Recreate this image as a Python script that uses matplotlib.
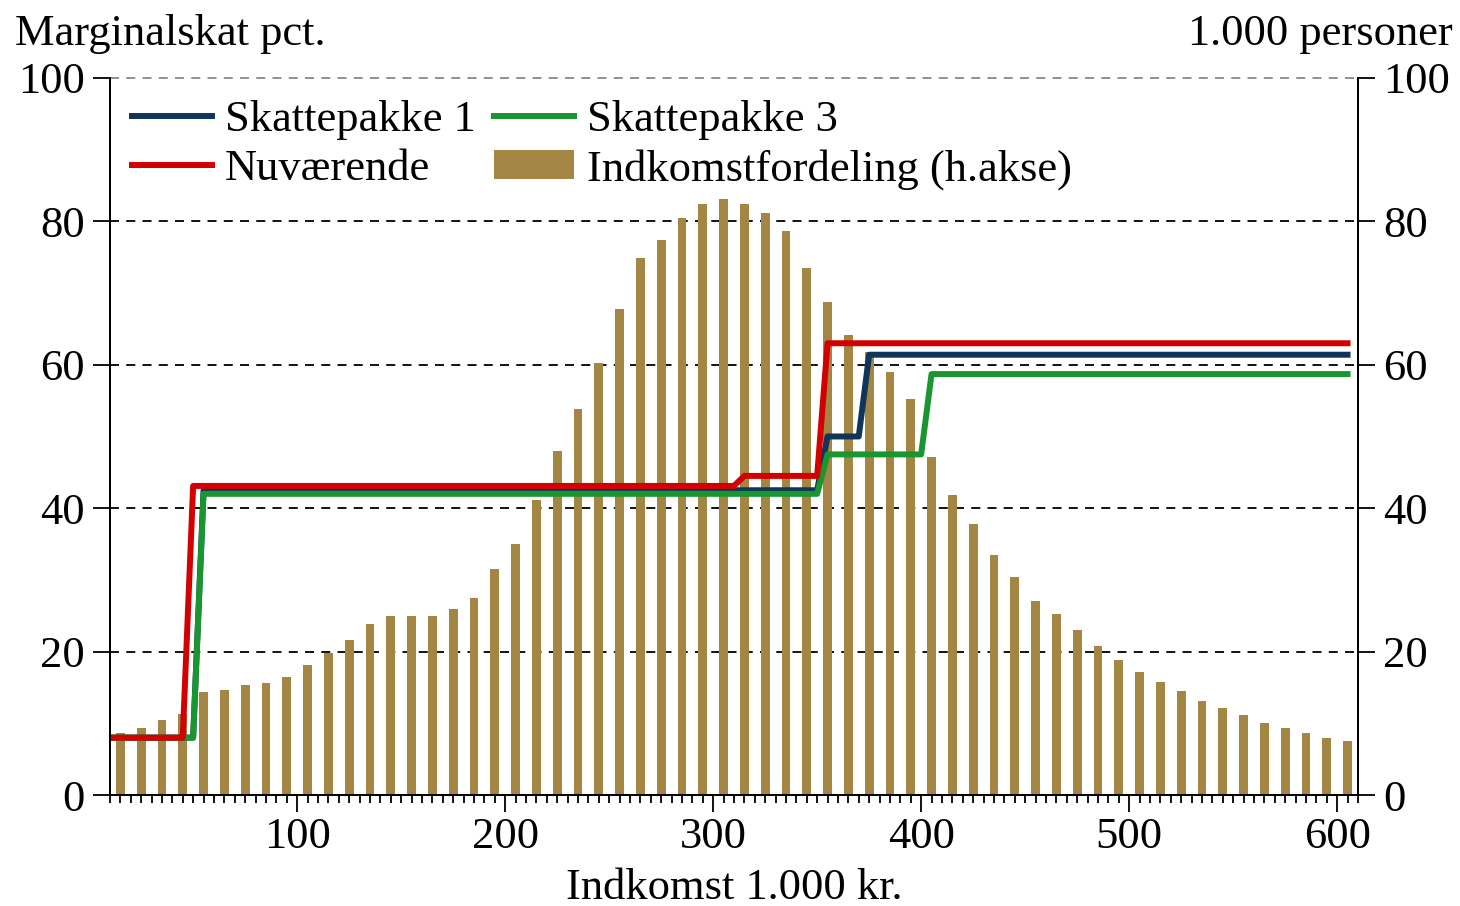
import numpy as np
import matplotlib
matplotlib.use("Agg")
from matplotlib import pyplot as plt
from matplotlib.ticker import MultipleLocator

plt.rcParams['font.family'] = ['Liberation Serif', 'DejaVu Serif']

# income distribution (1.000 persons), bars at 15, 25, ..., 605
bar_x = np.arange(15, 606, 10)
bar_h = [8.7, 9.3, 10.5, 11.3, 14.3, 14.7, 15.4, 15.6, 16.5, 18.1,
         19.8, 21.6, 23.8, 25.0, 25.0, 25.0, 25.9, 27.5, 31.5, 35.0,
         41.1, 48.0, 53.8, 60.3, 67.8, 74.9, 77.4, 80.4, 82.4, 83.1,
         82.4, 81.1, 78.6, 73.5, 68.8, 64.1, 61.8, 59.0, 55.2, 47.2,
         41.9, 37.8, 33.5, 30.4, 27.1, 25.2, 23.0, 20.8, 18.8, 17.2,
         15.8, 14.5, 13.1, 12.2, 11.1, 10.0, 9.3, 8.7, 8.0, 7.6]

# marginal tax (pct.) break points
nuv_x = [10, 45, 50, 310, 315, 350, 355, 605]
nuv_y = [8, 8, 43.1, 43.1, 44.5, 44.5, 63.0, 63.0]
sp1_x = [10, 50, 55, 350, 355, 370, 375, 605]
sp1_y = [8, 8, 42.5, 42.5, 50.0, 50.0, 61.4, 61.4]
sp3_x = [10, 50, 55, 350, 355, 400, 405, 605]
sp3_y = [8, 8, 42.0, 42.0, 47.5, 47.5, 58.7, 58.7]

c_blue = '#0f3558'
c_red = '#d40000'
c_green = '#1a9630'
c_bar = '#a38544'
fs = 32

fig = plt.figure(figsize=(14.6, 9.06), dpi=100)
ax = fig.add_axes([0.0753, 0.1225, 0.8548, 0.7915])
ax2 = ax.twinx()
ax.set_zorder(ax2.get_zorder() + 1)
ax.patch.set_visible(False)

# bars on right axis
bars = ax2.bar(bar_x, bar_h, width=4.2, color=c_bar, zorder=2,
               label='Indkomstfordeling (h.akse)')
for y in [20, 40, 60, 80]:
    ax2.axhline(y, color='black', lw=1.3, ls=(0, (5, 4)), zorder=1)
ax2.axhline(100, color='#888888', lw=1.3, ls=(0, (5, 4)), zorder=1, clip_on=False)

l1, = ax.plot(sp1_x, sp1_y, color=c_blue, lw=4.3, label='Skattepakke 1')
l3, = ax.plot(sp3_x, sp3_y, color=c_green, lw=4.3, label='Skattepakke 3')
l2, = ax.plot(nuv_x, nuv_y, color=c_red, lw=4.3, label='Nuværende')

for a in (ax, ax2):
    a.set_xlim(10, 610)
    a.set_ylim(0, 100)
    a.yaxis.set_major_locator(MultipleLocator(20))
    a.spines['top'].set_visible(False)
    a.tick_params(axis='y', labelsize=fs, length=12, width=1.3, pad=6)
    for s in a.spines.values():
        s.set_linewidth(1.3)

ax.xaxis.set_major_locator(MultipleLocator(100))
ax.xaxis.set_minor_locator(MultipleLocator(5))
ax.tick_params(axis='x', which='major', labelsize=fs, length=12, width=1.3, pad=4)
ax.tick_params(axis='x', which='minor', length=6, width=1.3)
ax2.tick_params(axis='x', bottom=False, labelbottom=False)

ax.set_xlabel('Indkomst 1.000 kr.', fontsize=fs, labelpad=8)
fig.text(0.010, 0.963, 'Marginalskat pct.', fontsize=fs, ha='left', va='center')
fig.text(0.995, 0.963, '1.000 personer', fontsize=fs, ha='right', va='center')

leg = ax.legend([l1, l2, l3, bars],
                ['Skattepakke 1', 'Nuværende', 'Skattepakke 3', 'Indkomstfordeling (h.akse)'],
                ncol=2, frameon=False, fontsize=fs, loc='upper left',
                bbox_to_anchor=(-0.007, 1.013), handlelength=1.8, handletextpad=0.28,
                columnspacing=0.42, labelspacing=0.2, borderaxespad=0.3,
                handleheight=0.6)

fig.savefig('out.png', dpi=100)
